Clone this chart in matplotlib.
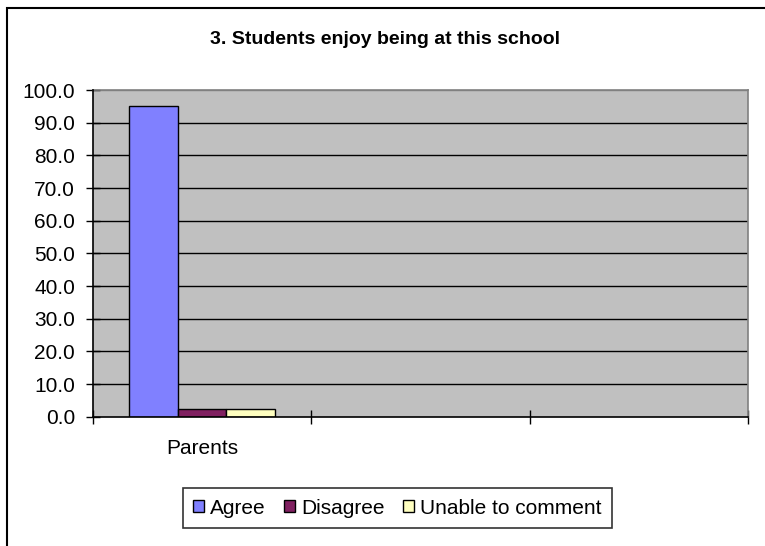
import numpy as np
import matplotlib
matplotlib.use("Agg")
import matplotlib.pyplot as plt
from matplotlib.patches import Rectangle

# survey data
categories = ["Parents", "", ""]
series = ["Agree", "Disagree", "Unable to comment"]
agree = [95.1, np.nan, np.nan]
disagree = [2.4, np.nan, np.nan]
unable = [2.4, np.nan, np.nan]
yticks = [0, 10, 20, 30, 40, 50, 60, 70, 80, 90, 100]

colors = ["#8080FF", "#802060", "#FFFFC0"]

plt.rcParams["font.family"] = ["Liberation Sans", "DejaVu Sans"]
FS = 15

fig = plt.figure(figsize=(7.65, 5.46), dpi=100)
# outer chart border (left/top only visible in the crop)
fig.patches.append(Rectangle((7 / 765, -0.1), 1.2, 1.1 - 7.5 / 546,
                             transform=fig.transFigure, fill=False,
                             edgecolor="black", linewidth=1.5))

ax = fig.add_axes([93 / 765, 1 - 416.7 / 546, (748 - 93) / 765, (416.7 - 90) / 546])
ax.set_facecolor("#C0C0C0")

x = np.arange(len(categories))
w = 1 / 4.5  # excel gap width 150%
for i, (vals, c) in enumerate(zip([agree, disagree, unable], colors)):
    ax.bar(x + (i - 1) * w, vals, width=w, color=c, edgecolor="black",
           linewidth=1.0, label=series[i], zorder=3)

ax.set_xlim(-0.5, len(categories) - 0.5)
ax.set_ylim(0, 100)
ax.set_yticks(yticks)
ax.set_yticklabels([f"{v:.1f}" for v in yticks], fontsize=FS)
for v in yticks[1:-1]:
    ax.axhline(v, color="black", linewidth=1.0, zorder=1)
ax.axhline(100, color="#808080", linewidth=1.0, zorder=1)

ax.set_xticks(np.arange(len(categories) + 1) - 0.5)
ax.set_xticklabels([])
ax.set_xticks(x, minor=True)
ax.set_xticklabels(categories, minor=True, fontsize=FS)
ax.tick_params(axis="x", which="minor", length=0, pad=16)
ax.tick_params(axis="both", which="major", direction="inout", length=10, width=1.0)
ax.tick_params(axis="y", pad=8)

for s in ["top", "right"]:
    ax.spines[s].set_color("#808080")
    ax.spines[s].set_linewidth(1.2)
for s in ["left", "bottom"]:
    ax.spines[s].set_color("black")
    ax.spines[s].set_linewidth(1.2)
    ax.spines[s].set_zorder(4)

fig.text(385 / 765, 1 - 40 / 546, "3. Students enjoy being at this school",
         ha="center", va="center", fontsize=14, fontweight="bold")

leg = fig.legend(loc="center", bbox_to_anchor=(397.5 / 765, 1 - 508 / 546), ncol=3,
                 fontsize=FS, frameon=True, fancybox=False, handlelength=0.5,
                 handleheight=0.5, handletextpad=0.3, columnspacing=0.9,
                 borderpad=0.5, borderaxespad=0)
leg.get_frame().set_edgecolor("black")
leg.get_frame().set_linewidth(1.2)

fig.savefig("out.png", dpi=100)
